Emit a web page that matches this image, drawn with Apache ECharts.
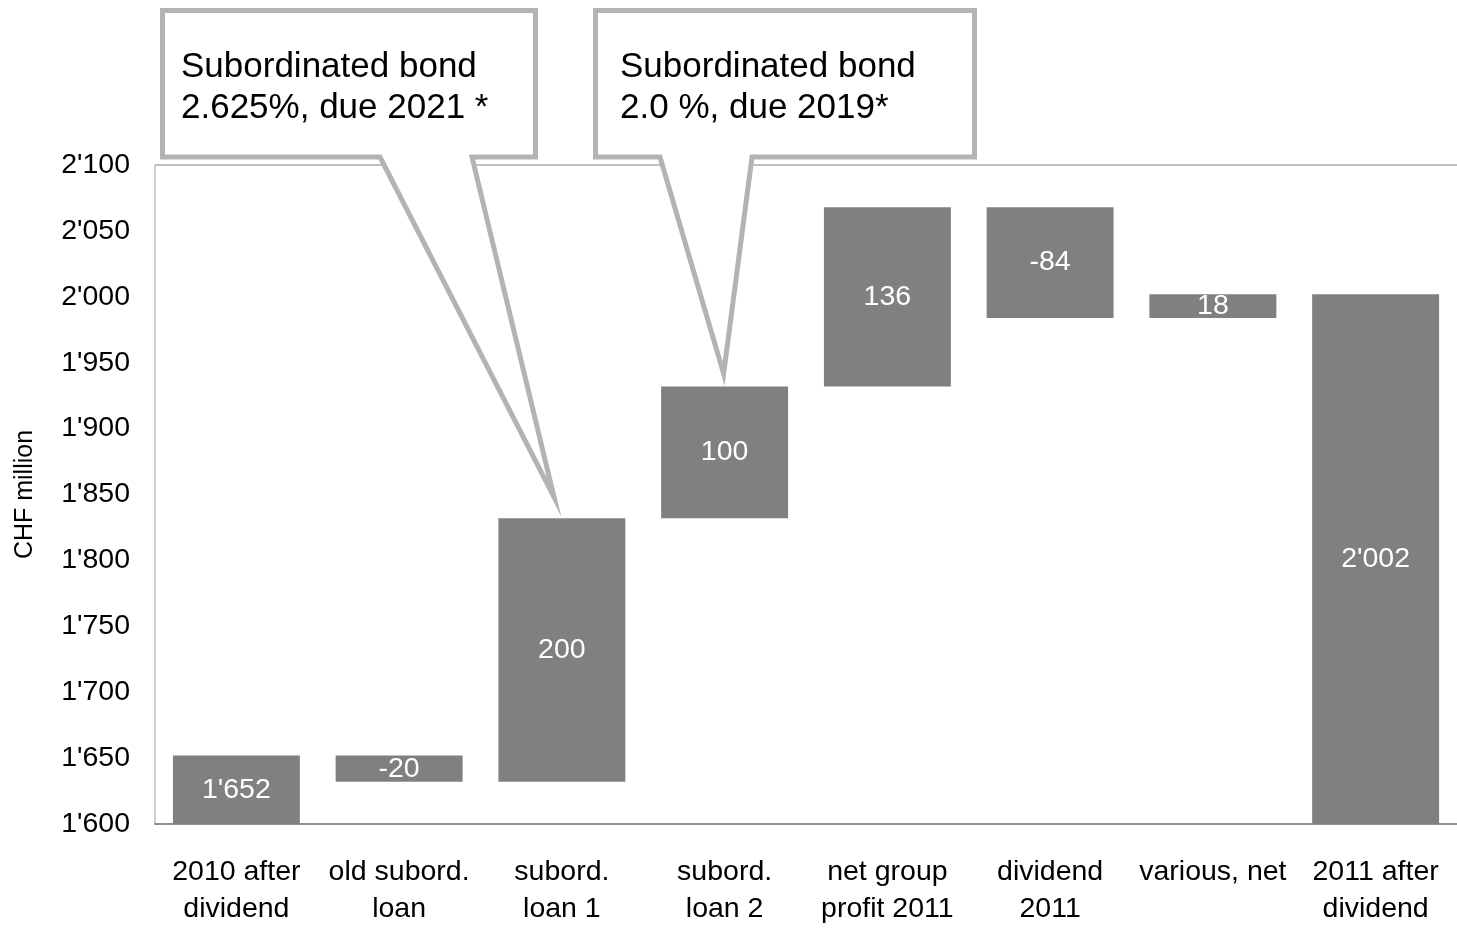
<!DOCTYPE html>
<html>
<head>
<meta charset="utf-8">
<title>Equity bridge 2010–2011</title>
<script src="https://cdn.jsdelivr.net/npm/echarts@6/dist/echarts.min.js"></script>
<style>
  html, body { margin: 0; padding: 0; background: #fff; }
  #chart { width: 1457px; height: 928px; }
</style>
</head>
<body>
<div id="chart"></div>
<script>
// Bridge steps (CHF million)
const categories = [
  '2010 after\ndividend', 'old subord.\nloan', 'subord.\nloan 1', 'subord.\nloan 2',
  'net group\nprofit 2011', 'dividend\n2011', 'various, net', '2011 after\ndividend'
];
// 'total' steps are levels, 'delta' steps are changes from the previous level
const stepTypes = ['total', 'delta', 'delta', 'delta', 'delta', 'delta', 'delta', 'total'];
const stepValues = [1652, -20, 200, 100, 136, -84, 18, 2002];

const yTicks = { min: 1600, max: 2100, interval: 50 };

const calloutTexts = [
  'Subordinated bond\n2.625%, due 2021 *',
  'Subordinated bond\n2.0 %, due 2019*'
];
const calloutTargets = [2, 3]; // category index each callout points at

const fmt = v => {
  const s = Math.abs(v).toString().replace(/\B(?=(\d{3})+(?!\d))/g, "'");
  return (v < 0 ? '-' : '') + s;
};

// Build invisible base + visible span for the waterfall
const baseData = [];
const spanData = [];
const topLevels = [];
let running = 0;
stepValues.forEach((v, i) => {
  if (stepTypes[i] === 'total') {
    running = v;
    baseData.push(0);
    spanData.push({ value: v, label: { formatter: fmt(v) } });
    topLevels.push(v);
  } else {
    const next = running + v;
    baseData.push(Math.min(running, next));
    spanData.push({ value: Math.abs(v), label: { formatter: fmt(v) } });
    topLevels.push(Math.max(running, next));
    running = next;
  }
});

const FONT = '"Liberation Sans", Arial, sans-serif';
const chart = echarts.init(document.getElementById('chart'), null, { renderer: 'canvas' });

chart.setOption({
  animation: false,
  backgroundColor: '#fff',
  textStyle: { fontFamily: FONT },
  grid: { left: 155, width: 1305, top: 165, bottom: 100, containLabel: false },
  xAxis: {
    type: 'category',
    data: categories,
    axisLine: { show: true, lineStyle: { color: '#6b6b6b', width: 1.5 } },
    axisTick: { show: false },
    axisLabel: {
      color: '#000', fontSize: 28.5, fontFamily: FONT,
      lineHeight: 37, margin: 30, interval: 0
    },
    splitLine: { show: false }
  },
  yAxis: {
    type: 'value',
    min: yTicks.min, max: yTicks.max, interval: yTicks.interval,
    name: 'CHF million',
    nameLocation: 'middle',
    nameGap: 117,
    nameTextStyle: { color: '#000', fontSize: 25, fontFamily: FONT },
    axisLine: { show: true, lineStyle: { color: '#bfbfbf', width: 1.5 } },
    axisTick: { show: false },
    axisLabel: {
      color: '#000', fontSize: 28.5, fontFamily: FONT, margin: 25,
      formatter: v => fmt(v)
    },
    splitLine: { show: false }
  },
  series: [
    {
      type: 'bar',
      stack: 'bridge',
      data: baseData,
      barWidth: '78%',
      itemStyle: { color: 'rgba(0,0,0,0)' },
      emphasis: { disabled: true },
      silent: true
    },
    {
      type: 'bar',
      stack: 'bridge',
      data: spanData,
      barWidth: '78%',
      itemStyle: { color: '#808080' },
      label: {
        show: true, position: 'inside',
        color: '#fff', fontSize: 28.5, fontFamily: FONT
      },
      markLine: {
        silent: true,
        symbol: 'none',
        label: { show: false },
        lineStyle: { color: '#c0c0c0', width: 2, type: 'solid' },
        data: [{ yAxis: yTicks.max }]
      }
    }
  ]
});

// Speech-bubble callouts pointing at the top of the bond bars
const STROKE = 5;
const boxes = [
  { left: 162.5, right: 535.5, top: 10.5, bottom: 157, baseL: 380, baseR: 472, textX: 181 },
  { left: 595.5, right: 974.5, top: 10.5, bottom: 157, baseL: 660, baseR: 752, textX: 620 }
];

// Pull the pointer vertex back so the mitred stroke tip lands on the bar top
function pointerVertex(tip, baseL, baseR, y0) {
  const a = [baseL - tip[0], y0 - tip[1]];
  const b = [baseR - tip[0], y0 - tip[1]];
  const la = Math.hypot(a[0], a[1]);
  const lb = Math.hypot(b[0], b[1]);
  const ua = [a[0] / la, a[1] / la];
  const ub = [b[0] / lb, b[1] / lb];
  const cosT = ua[0] * ub[0] + ua[1] * ub[1];
  const half = Math.acos(Math.min(1, cosT)) / 2;
  const ext = (STROKE / 2) / Math.sin(half);
  const bis = [ua[0] + ub[0], ua[1] + ub[1]];
  const lbis = Math.hypot(bis[0], bis[1]);
  return [tip[0] + bis[0] / lbis * ext, tip[1] + bis[1] / lbis * ext];
}

const graphics = [];
boxes.forEach((b, k) => {
  const idx = calloutTargets[k];
  const tip = chart.convertToPixel({ seriesIndex: 1 }, [idx, topLevels[idx]]);
  const v = pointerVertex(tip, b.baseL, b.baseR, b.bottom);
  graphics.push({
    type: 'polygon',
    z: 100,
    shape: {
      points: [
        [b.left, b.top], [b.right, b.top], [b.right, b.bottom],
        [b.baseR, b.bottom], v, [b.baseL, b.bottom],
        [b.left, b.bottom]
      ]
    },
    style: { fill: '#fff', stroke: '#b3b3b3', lineWidth: STROKE, lineJoin: 'miter', miterLimit: 40 }
  });
  graphics.push({
    type: 'text',
    z: 101,
    x: b.textX,
    y: 47,
    style: {
      text: calloutTexts[k],
      fill: '#000',
      fontSize: 35,
      fontFamily: FONT,
      lineHeight: 41,
      verticalAlign: 'top',
      align: 'left'
    }
  });
});
chart.setOption({ graphic: graphics });
</script>
</body>
</html>
